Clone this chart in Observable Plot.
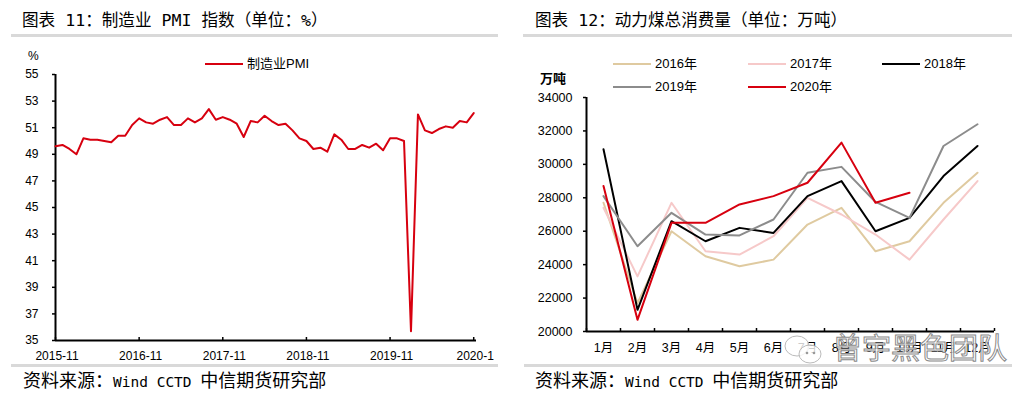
<!DOCTYPE html>
<html><head><meta charset="utf-8">
<script src="https://cdn.jsdelivr.net/npm/d3@7"></script>
<script src="https://cdn.jsdelivr.net/npm/@observablehq/plot@0.6"></script>
<style>
body{margin:0;background:#fff;width:1017px;height:395px;position:relative;overflow:hidden;font-family:"Liberation Sans","Noto Sans CJK SC",sans-serif;color:#000;}
.abs{position:absolute;}
.title{font-family:"DejaVu Sans Mono","Noto Sans CJK SC",monospace;font-size:16.6px;line-height:20px;white-space:nowrap;}
.foot{font-family:"Noto Sans CJK SC",sans-serif;font-size:18px;line-height:20px;white-space:nowrap;}
.foot .m{font-family:"DejaVu Sans Mono",monospace;font-size:14.5px;}
.bar{background:#d9d9d9;height:3px;}
.lg{font-size:13px;line-height:16px;white-space:nowrap;}
.lgl{height:2px;}
.wm{font-family:"Noto Sans CJK SC";font-size:29px;line-height:32px;color:rgba(255,255,255,0.85);-webkit-text-stroke:1px #8a8a8a;white-space:nowrap;}
</style></head>
<body>
<div class="abs title" style="left:22px;top:11px">图表 11：制造业 PMI 指数（单位：%）</div>
<div class="abs bar" style="left:11px;top:34px;width:487px"></div>
<div class="abs title" style="left:535px;top:11px">图表 12：动力煤总消费量（单位：万吨）</div>
<div class="abs bar" style="left:523px;top:34px;width:489px"></div>
<div id="left" class="abs" style="left:0;top:40px;width:500px;height:325px"></div>
<div id="right" class="abs" style="left:510px;top:40px;width:507px;height:325px"></div>
<div class="abs bar" style="left:11px;top:364px;width:487px"></div>
<div class="abs bar" style="left:524px;top:364px;width:488px"></div>
<div class="abs foot" style="left:23px;top:369px">资料来源：<span class="m">Wind CCTD </span>中信期货研究部</div>
<div class="abs foot" style="left:535px;top:369px">资料来源：<span class="m">Wind CCTD </span>中信期货研究部</div>
<div id="legends"></div>
<script>
// ---------- Data: chart 11 (manufacturing PMI, monthly from 2015-11) ----------
const pmiTickLabels = ["2015-11", "2016-11", "2017-11", "2018-11", "2019-11", "2020-1"];
const pmiValues = [
  49.6, 49.7, 49.4, 49.0, 50.2, 50.1, 50.1, 50.0, 49.9, 50.4, 50.4, 51.2,
  51.7, 51.4, 51.3, 51.6, 51.8, 51.2, 51.2, 51.7, 51.4, 51.7, 52.4, 51.6,
  51.8, 51.6, 51.3, 50.3, 51.5, 51.4, 51.9, 51.5, 51.2, 51.3, 50.8, 50.2,
  50.0, 49.4, 49.5, 49.2, 50.5, 50.1, 49.4, 49.4, 49.7, 49.5, 49.8, 49.3,
  50.2, 50.2, 50.0, 35.7, 52.0, 50.8, 50.6, 50.9, 51.1, 51.0, 51.5, 51.4,
  52.1
];
const pmiName = "制造业PMI";

// ---------- Data: chart 12 (thermal coal consumption, 万吨) ----------
const monthLabels = ["1月","2月","3月","4月","5月","6月","7月","8月","9月","10月","11月","12月"];
const coal2016 = [27700, 21700, 26000, 24500, 23900, 24300, 26400, 27400, 24800, 25400, 27700, 29500];
const coal2017 = [27400, 23300, 27700, 24800, 24600, 25700, 28000, 27000, 25800, 24300, 26700, 29000];
const coal2018 = [30900, 21300, 26600, 25400, 26200, 25900, 28100, 29000, 26000, 26800, 29300, 31100];
const coal2019 = [28100, 25100, 27100, 25800, 25750, 26700, 29500, 29850, 27750, 26800, 31100, 32400];
const coal2020 = [28700, 20700, 26500, 26500, 27600, 28100, 28900, 31300, 27700, 28300];
const seriesNames = ["2016年", "2017年", "2018年", "2019年", "2020年"];
const seriesColors = ["#dfcaa0", "#f6c9c9", "#000000", "#8c8c8c", "#d7000f"];

// ---------- Chart 11 ----------
const pmiRows = pmiValues.map((v, i) => ({i, v}));
const left = Plot.plot({
  width: 500, height: 325,
  marginLeft: 55, marginRight: 24, marginTop: 34, marginBottom: 25,
  style: {fontFamily: '"Liberation Sans","Noto Sans CJK SC",sans-serif', fontSize: "12px", color: "#000", background: "transparent"},
  x: {domain: [0, 60.4]},
  y: {domain: [35, 55]},
  marks: [
    Plot.axisY({ticks: d3.range(35, 56, 2), tickSize: 3, tickPadding: 14, label: null, strokeWidth: 1.5}),
    Plot.axisX({ticks: d3.range(0, 61, 12), tickSize: -3, tickFormat: () => "", label: null, strokeWidth: 1.5}),
    Plot.axisX({ticks: d3.range(0, 61, 12), tickSize: 0, tickPadding: 11, dx: 1.5, tickFormat: d => pmiTickLabels[Math.round(d / 12)], label: null}),
    Plot.ruleX([0], {strokeWidth: 2}),
    Plot.ruleY([35], {strokeWidth: 2}),
    Plot.line(pmiRows, {x: "i", y: "v", stroke: "#d7000f", strokeWidth: 2})
  ]
});
document.getElementById("left").appendChild(left);

// ---------- Chart 12 ----------
const coalSeries = [coal2016, coal2017, coal2018, coal2019, coal2020];
const coalRows = [];
coalSeries.forEach((vals, s) => vals.forEach((v, i) => coalRows.push({m: i + 1, v, s: seriesNames[s]})));
const right = Plot.plot({
  width: 507, height: 325,
  marginLeft: 76, marginRight: 23, marginTop: 57, marginBottom: 34,
  style: {fontFamily: '"Liberation Sans","Noto Sans CJK SC",sans-serif', fontSize: "12.5px", color: "#000", background: "transparent"},
  x: {domain: [0.5, 12.5]},
  y: {domain: [20000, 34000]},
  color: {domain: seriesNames, range: seriesColors},
  marks: [
    Plot.axisY({ticks: d3.range(20000, 34001, 2000), tickSize: 3, tickPadding: 11, tickFormat: d => String(d), label: null, strokeWidth: 1.5}),
    Plot.axisX({ticks: d3.range(0.5, 12.6, 1), tickSize: -3, tickFormat: () => "", label: null, strokeWidth: 1.5}),
    Plot.axisX({ticks: d3.range(1, 13), tickSize: 0, tickPadding: 12, tickFormat: d => monthLabels[d - 1], label: null}),
    Plot.ruleX([0.5], {strokeWidth: 2}),
    Plot.ruleY([20000], {strokeWidth: 2}),
    Plot.line(coalRows, {x: "m", y: "v", z: "s", stroke: "s", strokeWidth: 2})
  ]
});
document.getElementById("right").appendChild(right);

// ---------- Legends (HTML) ----------
const lg = document.getElementById("legends");
function addLegend(x, y, color, label, lineW) {
  const l = document.createElement("div");
  l.className = "abs lgl";
  l.style.cssText = `left:${x}px;top:${y - 1}px;width:${lineW}px;background:${color}`;
  lg.appendChild(l);
  const t = document.createElement("div");
  t.className = "abs lg";
  t.style.cssText = `left:${x + lineW + 4}px;top:${y - 8}px`;
  t.textContent = label;
  lg.appendChild(t);
}
addLegend(205, 64, "#d7000f", pmiName, 38);
const legPos = [[613, 64], [748, 64], [882, 64], [613, 87], [748, 87]];
seriesNames.forEach((n, k) => addLegend(legPos[k][0], legPos[k][1], seriesColors[k], n, 38));
const u = document.createElement("div");
u.className = "abs"; u.style.cssText = "left:540px;top:68px;font-size:13px;font-weight:bold;font-family:'Noto Sans CJK SC'";
u.textContent = "万吨"; lg.appendChild(u);
const p = document.createElement("div");
p.className = "abs"; p.style.cssText = "left:28px;top:49px;font-size:12px;";
p.textContent = "%"; lg.appendChild(p);
</script>
<svg class="abs" style="left:783px;top:335px" width="45" height="32">
  <ellipse cx="14" cy="11" rx="12" ry="10" fill="rgba(255,255,255,0.8)" stroke="#bbb"/>
  <ellipse cx="27" cy="19" rx="11" ry="9" fill="rgba(255,255,255,0.8)" stroke="#bbb"/>
  <circle cx="24" cy="18" r="1.3" fill="#999"/><circle cx="31" cy="18" r="1.3" fill="#999"/>
</svg>
<div class="abs wm" style="left:833px;top:330px">曾宇黑色团队</div>
</body></html>
